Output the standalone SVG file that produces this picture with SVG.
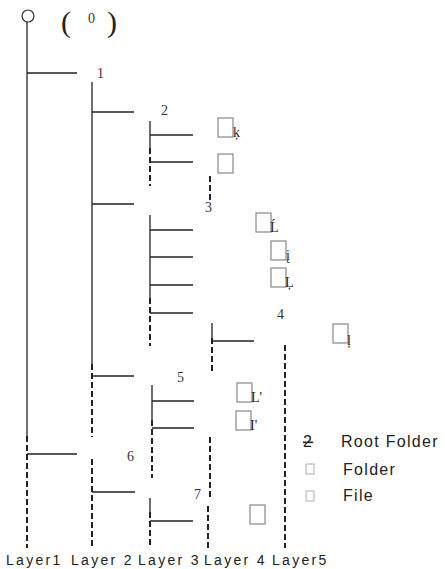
<svg xmlns="http://www.w3.org/2000/svg" width="445" height="569" viewBox="0 0 445 569">
<style>
.s{stroke:#222;stroke-width:1.3;fill:none}
.d{stroke:#222;stroke-width:2;stroke-dasharray:6 3;fill:none}
.b{fill:#fff;stroke:#888;stroke-width:1.2}
.n{font-family:"Liberation Serif",serif;font-size:14px;fill:#333}
.g{font-family:"Liberation Serif",serif;font-size:14px;fill:#222}
.l{font-family:"Liberation Sans",Arial,sans-serif;font-size:14px;fill:#222;letter-spacing:2.3px}
.t{font-family:"Liberation Sans",Arial,sans-serif;font-size:16px;fill:#222;letter-spacing:1.3px}
</style>
<rect width="445" height="569" fill="#fff"/>
<g id="root">
<circle cx="28" cy="16" r="6" fill="#fff" stroke="#333" stroke-width="1.2"/>
<text x="61" y="32" font-family="Liberation Serif,serif" font-size="30" fill="#222">(</text>
<text x="88" y="23" class="n" font-size="12">0</text>
<text x="107" y="32" font-family="Liberation Serif,serif" font-size="30" fill="#222">)</text>
</g>
<g id="connectors">
<path class="s" d="M27,22V436"/>
<path class="d" d="M27,436V548"/>
<path class="s" d="M27,73H77M27,454H77"/>
<path class="s" d="M92,82V364"/>
<path class="d" d="M92,364V437M92,459V548"/>
<path class="s" d="M92,112H134M92,204H134M92,376H134M92,492H135"/>
<path class="s" d="M150,121V148"/>
<path class="d" d="M150,148V186"/>
<path class="s" d="M150,135H193M150,162H193"/>
<path class="s" d="M150,215V298"/>
<path class="d" d="M150,298V346"/>
<path class="s" d="M150,230H193M150,257H193M150,285H193M150,313H193"/>
<path class="s" d="M152,385V420"/>
<path class="d" d="M152,420V478"/>
<path class="s" d="M152,401H194M152,428H194"/>
<path class="s" d="M150,498V512"/>
<path class="d" d="M150,512V548"/>
<path class="s" d="M150,521H193"/>
<path class="d" d="M210,176V202"/>
<path class="s" d="M212,323V338"/>
<path class="d" d="M212,338V372"/>
<path class="s" d="M212,341H254"/>
<path class="d" d="M210,437V499M208,506V548"/>
<path class="d" d="M285,345V548"/>
</g>
<g id="n1"><text x="97" y="78" class="n">1</text></g>
<g id="n2"><text x="161" y="115" class="n">2</text></g>
<g id="n3"><text x="205" y="212" class="n">3</text></g>
<g id="n4"><text x="277" y="319" class="n">4</text></g>
<g id="n5"><text x="177" y="382" class="n">5</text></g>
<g id="n6"><text x="127" y="461" class="n">6</text></g>
<g id="n7"><text x="194" y="499" class="n">7</text></g>
<g id="f1"><rect class="b" x="218" y="118" width="15" height="19"/><text x="233" y="137" class="g">ķ</text></g>
<g id="f2"><rect class="b" x="218" y="154" width="15" height="19"/></g>
<g id="f3"><rect class="b" x="256" y="213" width="15" height="19"/><text x="270" y="232" class="g">Ĺ</text></g>
<g id="f4"><rect class="b" x="271" y="241" width="15" height="19"/><text x="286" y="260" class="g">į</text></g>
<g id="f5"><rect class="b" x="271" y="268" width="15" height="19"/><text x="285" y="287" class="g">Ļ</text></g>
<g id="f6"><rect class="b" x="333" y="324" width="15" height="19"/><text x="347" y="345" class="g">ļ</text></g>
<g id="f7"><rect class="b" x="237" y="383" width="15" height="19"/><text x="251" y="402" class="g">L'</text></g>
<g id="f8"><rect class="b" x="236" y="411" width="15" height="19"/><text x="250" y="430" class="g">I'</text></g>
<g id="f9"><rect class="b" x="250" y="505" width="15" height="19"/></g>
<g id="legend">
<text x="303" y="447" class="t" text-decoration="line-through">2</text>
<text x="341" y="447" class="t">Root Folder</text>
<rect x="306" y="464" width="8" height="10" fill="none" stroke="#999" stroke-width="0.8"/>
<text x="343" y="475" class="t">Folder</text>
<rect x="306" y="491" width="8" height="10" fill="none" stroke="#999" stroke-width="0.8"/>
<text x="343" y="501" class="t">File</text>
</g>
<g id="layers">
<text x="6" y="565" class="l">Layer1</text>
<text x="71" y="565" class="l">Layer 2</text>
<text x="138" y="565" class="l">Layer 3</text>
<text x="204" y="565" class="l">Layer 4</text>
<text x="272" y="565" class="l">Layer5</text>
</g>
</svg>
